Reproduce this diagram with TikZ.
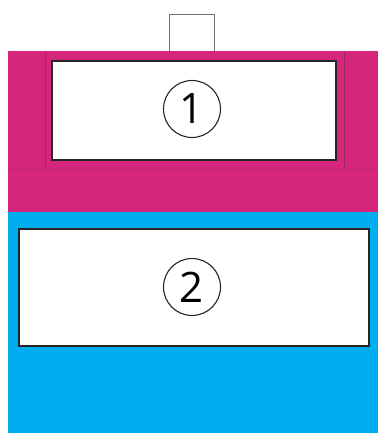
\documentclass[tikz,border=0pt]{standalone}
\usepackage{fontspec}
\setmainfont{Open Sans}
\definecolor{mag}{RGB}{214,38,124}
\definecolor{magline}{RGB}{160,40,100}
\definecolor{cyanfill}{RGB}{0,174,239}
\begin{document}
\begin{tikzpicture}[x=1pt,y=-1pt,
  panel/.style={draw=none},
  whitebox/.style={draw=black!85,fill=white,line width=2.2pt},
  numcircle/.style={circle,draw=black!85,line width=1.1pt,minimum size=57pt,inner sep=0pt,
    font=\fontsize{42}{42}\selectfont}]
\useasboundingbox (0,0) rectangle (378,433);
% top tab
\node[draw=black!55,line width=0.8pt,fill=white,minimum width=45pt,minimum height=37pt,inner sep=0pt,anchor=north west] (tab) at (169,14) {};
% magenta panel
\fill[mag] (8,51) rectangle (378,212);
\draw[magline,line width=0.5pt] (45,51) -- (45,169);
\draw[magline,line width=0.5pt] (344,51) -- (344,169);
\draw[magline!60!mag,line width=0.5pt] (8,169) -- (378,169);
% cyan panel
\fill[cyanfill] (8,212) rectangle (378,433);
% box 1
\node[whitebox,minimum width=284pt,minimum height=99pt,inner sep=0pt,anchor=north west] (b1) at (51,60) {};
\node[numcircle] (c1) at (192,109) {1};
% box 2
\node[whitebox,line width=1.6pt,minimum width=350pt,minimum height=117pt,inner sep=0pt,anchor=north west] (b2) at (18,228) {};
\node[numcircle] (c2) at (192,287) {2};
\end{tikzpicture}
\end{document}
